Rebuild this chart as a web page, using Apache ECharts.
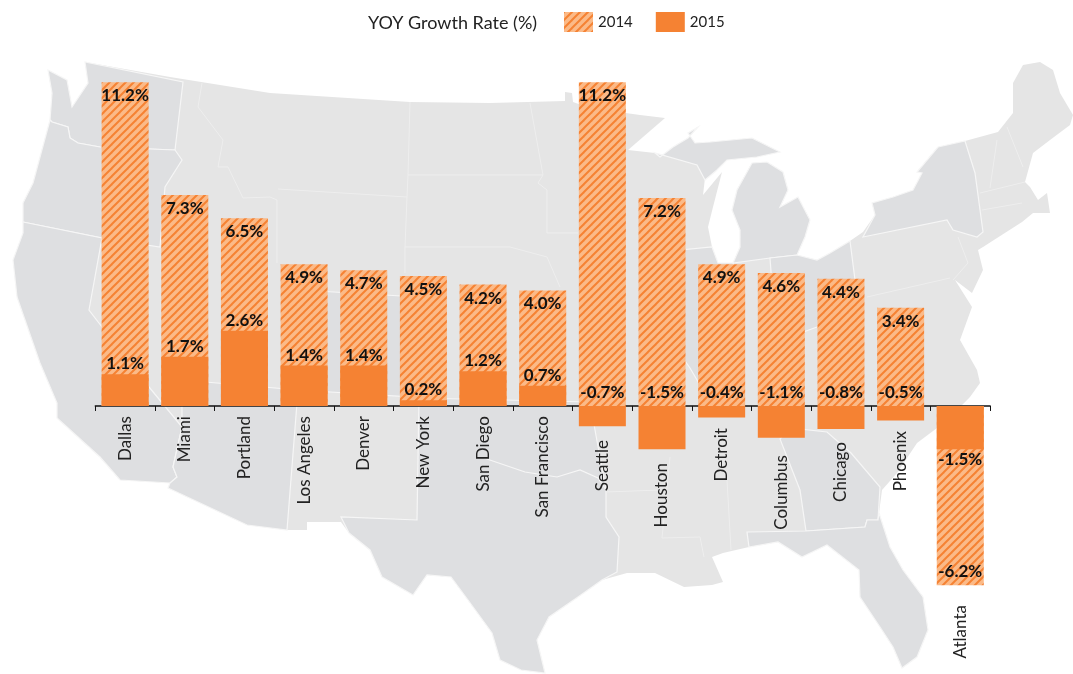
<!DOCTYPE html>
<html><head><meta charset="utf-8">
<style>html,body{margin:0;padding:0;background:#fff}#c{width:1073px;height:674px}</style>
<script src="https://cdn.jsdelivr.net/npm/echarts@6/dist/echarts.min.js"></script>
</head><body><div id="c"></div>
<script>
var categories=['Dallas','Miami','Portland','Los Angeles','Denver','New York','San Diego','San Francisco','Seattle','Houston','Detroit','Columbus','Chicago','Phoenix','Atlanta'];
var values2014=[11.2,7.3,6.5,4.9,4.7,4.5,4.2,4.0,11.2,7.2,4.9,4.6,4.4,3.4,-6.2];
var values2015=[1.1,1.7,2.6,1.4,1.4,0.2,1.2,0.7,-0.7,-1.5,-0.4,-1.1,-0.8,-0.5,-1.5];

// Layout only: how far each city name is pushed down so it clears a negative bar (px)
var nameDrop={Seattle:24,Houston:47,Detroit:12,Columbus:39,Chicago:26,Phoenix:15,Atlanta:189};

// Decorative backdrop: hand-traced silhouette of the United States (not data)
var usOutline=[[48,70],[67,80],[72,107],[88,83],[85,62],[170,77],[270,93],[410,102],[490,103],[565,101],[565,92],[572,93],[573,102],[590,108],[640,115],[665,118],[628,150],[655,153],[660,157],[673,147],[688,138],[698,127],[688,133],[695,143],[710,142],[752,138],[780,152],[757,157],[727,160],[717,170],[705,178],[703,195],[722,172],[713,207],[708,227],[712,247],[718,263],[733,263],[740,247],[740,230],[732,210],[737,190],[752,163],[767,162],[783,172],[788,190],[780,207],[798,197],[810,220],[805,237],[797,255],[817,260],[830,253],[850,241],[863,232],[875,215],[872,203],[893,197],[913,190],[922,173],[917,172],[938,147],[965,141],[998,132],[1013,113],[1013,83],[1023,65],[1040,62],[1053,70],[1060,93],[1073,115],[1070,125],[1050,140],[1033,153],[1025,182],[1030,187],[1038,200],[1047,193],[1050,213],[1033,213],[1022,222],[983,247],[978,250],[983,270],[972,293],[955,280],[972,307],[960,340],[977,370],[980,383],[970,397],[957,410],[937,428],[917,443],[897,473],[882,490],[879,513],[890,547],[903,570],[923,597],[928,630],[917,657],[902,668],[893,647],[880,627],[860,597],[859,570],[827,545],[802,557],[778,542],[749,547],[723,553],[712,557],[723,582],[712,585],[684,587],[655,573],[627,573],[602,580],[578,597],[549,617],[537,640],[545,673],[521,670],[500,660],[492,633],[468,600],[451,577],[427,575],[413,595],[382,577],[370,550],[349,533],[341,522],[307,522],[307,530],[287,530],[247,525],[168,488],[170,483],[120,480],[100,457],[57,418],[57,403],[40,363],[17,297],[13,260],[23,233],[23,203],[33,183],[50,120],[52,93]];
var darkRegions=[
 [[48,70],[67,80],[72,107],[88,83],[85,62],[183,82],[175,150],[100,147],[78,143],[70,138],[68,127],[52,122],[50,120],[52,93]],
 [[52,122],[68,127],[70,138],[78,143],[100,147],[175,150],[182,160],[165,187],[160,247],[102,238],[23,222],[23,203],[33,183],[50,120]],
 [[23,222],[102,238],[89,310],[102,327],[149,387],[182,427],[173,467],[177,477],[170,483],[120,480],[100,457],[57,418],[57,403],[40,363],[17,297],[13,260],[23,233]],
 [[182,380],[298,390],[287,530],[247,525],[168,488],[170,483],[177,477],[173,467],[182,427]],
 [[300,290],[435,298],[430,398],[298,390]],
 [[419,398],[590,402],[595,430],[606,490],[606,517],[619,537],[617,572],[602,580],[578,597],[549,617],[537,640],[545,673],[521,670],[500,660],[492,633],[468,600],[451,577],[427,575],[413,595],[382,577],[370,550],[349,533],[341,517],[417,520]],
 [[655,153],[660,157],[673,147],[688,138],[698,127],[688,133],[695,143],[710,142],[752,138],[780,152],[757,157],[727,160],[717,170],[705,180],[697,165]],
 [[733,263],[740,247],[740,230],[732,210],[737,190],[752,163],[767,162],[783,172],[788,190],[780,207],[798,197],[810,220],[805,237],[797,255],[770,258]],
 [[660,252],[712,247],[718,263],[733,263],[740,300],[730,350],[700,385],[690,368],[670,340],[650,290]],
 [[770,258],[797,255],[817,260],[830,253],[850,241],[855,280],[855,300],[835,320],[817,327],[795,335],[775,325]],
 [[863,237],[947,220],[953,230],[977,237],[983,232],[975,173],[965,141],[938,147],[917,172],[922,173],[913,190],[893,197],[872,203],[875,215]],
 [[780,439],[790,428],[827,432],[851,453],[880,487],[878,520],[867,520],[865,527],[806,531],[800,490]],
 [[747,532],[806,531],[865,527],[867,520],[878,520],[879,513],[890,547],[903,570],[923,597],[928,630],[917,657],[902,668],[893,647],[880,627],[860,597],[859,570],[827,545],[802,557],[778,542],[749,547]]
];
var faintLines=[
 [[202,83],[198,107],[223,140],[218,167],[228,167],[243,198],[270,197],[277,200],[277,263]],
 [[410,102],[408,175],[407,197],[405,247],[405,273]],[[408,175],[543,175]],
 [[278,189],[407,197]],[[405,247],[510,247],[547,257],[560,287]],
 [[530,103],[543,175],[538,183],[547,190],[547,233],[578,233]],
 [[727,480],[731,550]],[[670,457],[662,538],[700,537],[704,557]],[[606,492],[660,490]],
 [[1007,127],[1023,167]],[[997,140],[990,188]],[[980,193],[1025,182]],[[982,210],[1022,203]],
 [[958,237],[968,263],[953,280]],[[867,297],[950,278]]
];
var redRiver=[[484,458],[525,472],[557,477],[580,470],[598,478],[606,490]];

function stripes(){
  var p=8,c=document.createElement('canvas');c.width=p;c.height=p;
  var g=c.getContext('2d');g.fillStyle='#fbba88';g.fillRect(0,0,p,p);
  g.strokeStyle='#f58233';g.lineWidth=2;g.lineCap='square';
  [[-p,p,p,-p],[0,p,p,0],[0,2*p,2*p,0]].forEach(function(l){g.beginPath();g.moveTo(l[0],l[1]);g.lineTo(l[2],l[3]);g.stroke();});
  return {image:c,repeat:'repeat'};
}
var sans='Lato,"Liberation Sans",sans-serif';
var LAST=categories.length-1;
var hatch=stripes(), solid='#f58233';
var labelBase={show:true,color:'#111',fontFamily:sans,fontWeight:'bold',fontSize:17};
function pct(p){return p.value.toFixed(1)+'%';}

var nameRich={};
categories.forEach(function(c,i){
  nameRich['n'+i]={fontFamily:sans,fontSize:17,color:'#222',padding:[0,nameDrop[c]||0,0,0]};
});

var bg=[{type:'polygon',silent:true,z:-3,shape:{points:usOutline},style:{fill:'#e5e5e5'}}];
darkRegions.forEach(function(r){bg.push({type:'polygon',silent:true,z:-2,shape:{points:r},style:{fill:'#dedfe1',stroke:'#f6f6f6',lineWidth:1.2}});});
faintLines.forEach(function(l){bg.push({type:'polyline',silent:true,z:-1,shape:{points:l},style:{fill:null,stroke:'#eeeeee',lineWidth:1}});});
bg.push({type:'polyline',silent:true,z:-1,shape:{points:redRiver},style:{fill:null,stroke:'#f6f6f6',lineWidth:1.2}});

var chart=echarts.init(document.getElementById('c'));
chart.setOption({
 animation:false,
 backgroundColor:'#fff',
 title:{text:'YOY Growth Rate (%)',left:363,top:9,textStyle:{fontFamily:sans,fontWeight:'normal',fontSize:18,color:'#222'}},
 legend:{left:559,top:7,icon:'rect',itemWidth:29,itemHeight:20,itemGap:23,itemStyle:{borderWidth:0},
   textStyle:{fontFamily:sans,fontSize:15,color:'#222'},data:['2014','2015']},
 grid:{left:95.3,width:894.8,top:82.3,height:505.75,outerBoundsMode:'none',containLabel:false},
 xAxis:{type:'category',data:categories,
   axisLine:{onZero:true,lineStyle:{color:'#111',width:1.5}},
   axisTick:{show:true,alignWithLabel:false,length:5,lineStyle:{color:'#111',width:1}},
   axisLabel:{interval:0,rotate:90,margin:-172,color:'#222',fontFamily:sans,fontSize:17,hideOverlap:false,
     formatter:function(v){return '{n'+categories.indexOf(v)+'|'+v+'}';},rich:nameRich}},
 yAxis:{type:'value',min:-6.3,max:11.2,show:false},
 series:[
  {name:'2014',type:'bar',barWidth:47,barGap:'-100%',itemStyle:{color:hatch},
   data:values2014.map(function(v){return {value:v,label:Object.assign({},labelBase,{position:v<0?'insideBottom':'insideTop',distance:5,formatter:pct})};})},
  {name:'2015',type:'bar',barWidth:47,itemStyle:{color:solid},
   data:values2015.map(function(v,i){return {value:v,label:Object.assign({},labelBase,{position:i===LAST?'bottom':'top',distance:v<0&&i!==LAST?5:2,formatter:pct})};})}
 ],
 graphic:{elements:bg}
});
</script></body></html>
